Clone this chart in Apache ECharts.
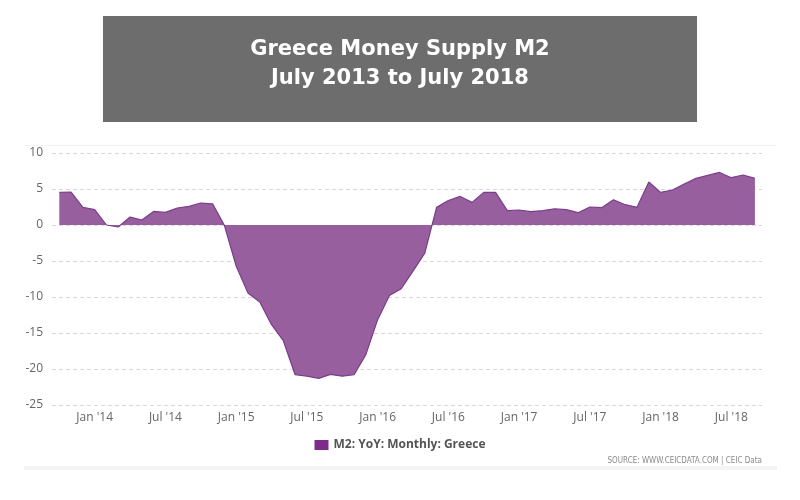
<!DOCTYPE html>
<html>
<head>
<meta charset="utf-8">
<script src="https://cdn.jsdelivr.net/npm/echarts@6/dist/echarts.min.js"></script>
<style>html,body{margin:0;padding:0;background:#fff}#c{width:800px;height:500px}</style>
</head>
<body>
<div id="c"></div>
<script>
// Months from Oct 2013 to Sep 2018 (60 monthly observations)
var months = ["2013-10","2013-11","2013-12","2014-01","2014-02","2014-03","2014-04","2014-05","2014-06","2014-07",
"2014-08","2014-09","2014-10","2014-11","2014-12","2015-01","2015-02","2015-03","2015-04","2015-05",
"2015-06","2015-07","2015-08","2015-09","2015-10","2015-11","2015-12","2016-01","2016-02","2016-03",
"2016-04","2016-05","2016-06","2016-07","2016-08","2016-09","2016-10","2016-11","2016-12","2017-01",
"2017-02","2017-03","2017-04","2017-05","2017-06","2017-07","2017-08","2017-09","2017-10","2017-11",
"2017-12","2018-01","2018-02","2018-03","2018-04","2018-05","2018-06","2018-07","2018-08","2018-09"];
var m2YoY = [4.53,4.58,2.44,2.13,0.0,-0.28,1.1,0.7,1.88,1.75,
2.36,2.58,3.05,2.95,-0.05,-5.7,-9.45,-10.7,-13.85,-16.07,
-20.8,-21.0,-21.3,-20.75,-21.0,-20.8,-18.0,-13.15,-9.8,-8.85,
-6.4,-3.9,2.45,3.4,3.97,3.14,4.53,4.53,1.99,2.08,
1.85,1.99,2.26,2.13,1.71,2.5,2.4,3.51,2.82,2.45,
5.97,4.53,4.86,5.69,6.47,6.89,7.3,6.57,6.94,6.47];
var tickIdx = [3,9,15,21,27,33,39,45,51,57];
var tickLabels = ["Jan '14","Jul '14","Jan '15","Jul '15","Jan '16","Jul '16","Jan '17","Jul '17","Jan '18","Jul '18"];
var seriesName = "M2: YoY: Monthly: Greece";
var titleLines = ["Greece Money Supply M2", "July 2013 to July 2018"];
var sourceText = "SOURCE: WWW.CEICDATA.COM | CEIC Data";

var chart = echarts.init(document.getElementById('c'), null, {renderer:'canvas'});
var pts = m2YoY.map(function(v,i){ return [i, v]; });
chart.setOption({
  animation:false,
  backgroundColor:'#ffffff',
  grid:{left:52, right:38, top:153, bottom:95, containLabel:false},
  legend:{
    data:[{name:seriesName, icon:'rect'}],
    top:434, left:'center', itemWidth:14, itemHeight:10, itemGap:4,
    textStyle:{color:'#555', fontSize:12, fontWeight:'bold', fontFamily:'"Open Sans", sans-serif'}
  },
  xAxis:{
    type:'value', min:-0.62, max:59.6,
    axisLine:{show:false}, axisTick:{show:false}, splitLine:{show:false},
    axisLabel:{
      customValues:tickIdx, color:'#666', fontSize:12, margin:7,
      fontFamily:'"Open Sans", sans-serif',
      formatter:function(v){ var k = tickIdx.indexOf(Math.round(v)); return k>=0 ? tickLabels[k] : ''; }
    }
  },
  yAxis:{
    type:'value', min:-25, max:10, interval:5,
    axisLine:{show:false}, axisTick:{show:false},
    axisLabel:{color:'#666', fontSize:12, margin:9, fontFamily:'"Open Sans", sans-serif'},
    splitLine:{show:true, lineStyle:{color:'#d8d8d8', type:[4,3], width:1}}
  },
  series:[{
    name:seriesName, type:'line', data:pts, symbol:'none',
    lineStyle:{color:'#7b3c8a', width:1.2},
    itemStyle:{color:'#7b2d87'},
    areaStyle:{color:'#985f9f', opacity:1, origin:0}
  }],
  graphic:[
    {type:'rect', left:103, top:16, shape:{width:594, height:106}, style:{fill:'#6d6d6d'}, z:10},
    {type:'text', x:400, y:50, z:11, style:{text:titleLines[0], fill:'#fff', font:'bold 21px "DejaVu Sans", sans-serif', align:'center', verticalAlign:'middle'}},
    {type:'text', x:400, y:79, z:11, style:{text:titleLines[1], fill:'#fff', font:'bold 21px "DejaVu Sans", sans-serif', align:'center', verticalAlign:'middle'}},
    {type:'rect', left:24, top:145, shape:{width:753, height:1}, style:{fill:'#f3f3f3'}, z:1},
    {type:'rect', left:24, top:466, shape:{width:753, height:4}, style:{fill:'#f4f4f4'}, z:1},
    {type:'text', x:762, y:461, z:11, style:{text:sourceText, fill:'#8a8a8a', font:'8px "Liberation Sans Narrow", "DejaVu Sans Condensed", sans-serif', align:'right', verticalAlign:'middle'}}
  ]
});
</script>
</body>
</html>
